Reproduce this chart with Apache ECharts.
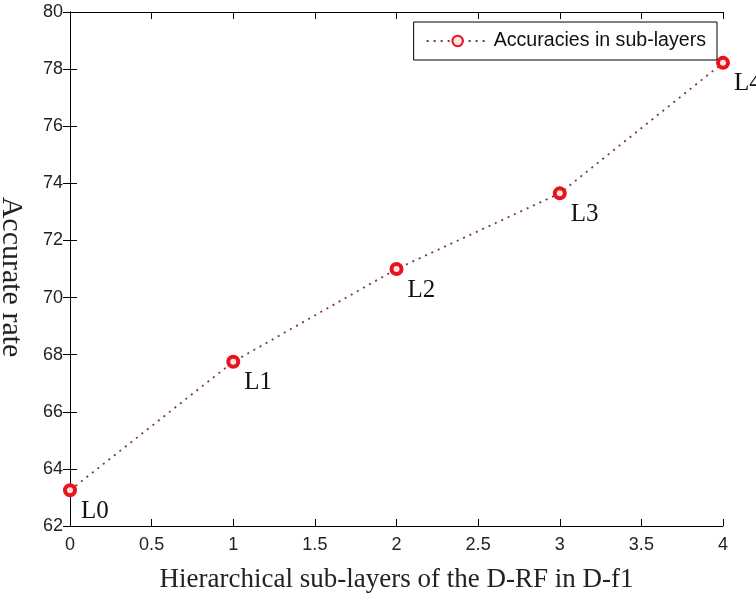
<!DOCTYPE html>
<html>
<head>
<meta charset="utf-8">
<script src="https://cdn.jsdelivr.net/npm/echarts@6/dist/echarts.min.js"></script>
<style>
  html, body { margin: 0; padding: 0; background: #fff; }
  #main { width: 756px; height: 600px; }
</style>
</head>
<body>
<div id="main"></div>
<script>
// sub-layer index on x, accuracy on y
const layers = [0, 1, 2, 3, 4];
const accuracy = [63.25, 67.75, 71.0, 73.65, 78.22];
const pointLabels = ["L0", "L1", "L2", "L3", "L4"];
const seriesName = "Accuracies in sub-layers";

const tickFont = { fontFamily: "Liberation Sans", fontSize: 18, color: "#222" };

const seriesData = layers.map((x, i) => ({
  name: pointLabels[i],
  value: [x, accuracy[i]],
}));

const frameAxis = {
  axisLine: { show: true, lineStyle: { color: "#000", width: 1 } },
  axisTick: { show: true, inside: true, length: 7, lineStyle: { color: "#000" } },
  splitLine: { show: false },
};

const option = {
  backgroundColor: "#fff",
  animation: false,
  grid: { left: 70, right: 33, top: 12, bottom: 74, outerBoundsMode: "none", containLabel: false },
  legend: {
    data: [seriesName],
    right: 39,
    top: 22,
    backgroundColor: "#fff",
    borderColor: "#000",
    borderWidth: 1,
    borderRadius: 0,
    padding: [9, 11, 9, 12],
    itemWidth: 62,
    itemHeight: 13,
    itemGap: 0,
    textStyle: { fontFamily: "Liberation Sans", fontSize: 19.6, color: "#111" },
  },
  xAxis: [
    {
      ...frameAxis,
      type: "value",
      min: 0,
      max: 4,
      interval: 0.5,
      name: "Hierarchical sub-layers of the D-RF in D-f1",
      nameLocation: "middle",
      nameGap: 40,
      nameTextStyle: { fontFamily: "Liberation Serif", fontSize: 27, color: "#222", verticalAlign: "top" },
      axisLabel: { ...tickFont, margin: 10 },
    },
    {
      ...frameAxis,
      type: "value",
      position: "top",
      min: 0,
      max: 4,
      interval: 0.5,
      axisLabel: { show: false },
    },
  ],
  yAxis: [
    {
      ...frameAxis,
      type: "value",
      min: 62,
      max: 80,
      interval: 2,
      name: "Accurate rate",
      nameLocation: "middle",
      nameRotate: -90,
      nameGap: 44,
      nameTextStyle: { fontFamily: "Liberation Serif", fontSize: 30, color: "#222", padding: [0, 0, 0, 16] },
      axisLabel: { ...tickFont, margin: 7 },
    },
    {
      ...frameAxis,
      type: "value",
      position: "right",
      min: 62,
      max: 80,
      interval: 2,
      axisLabel: { show: false },
    },
  ],
  series: [
    {
      name: seriesName,
      type: "line",
      clip: false,
      data: seriesData,
      symbol: "circle",
      symbolSize: 10,
      itemStyle: { color: "#fde3e3", borderColor: "#e8141b", borderWidth: 4 },
      lineStyle: { color: "#7a3646", width: 1.8, type: [2, 5] },
      label: {
        show: true,
        formatter: "{b}",
        position: "right",
        distance: 4,
        offset: [0, 21],
        fontFamily: "Liberation Serif",
        fontSize: 25,
        color: "#111",
      },
      emphasis: { disabled: true },
    },
  ],
};

const chart = echarts.init(document.getElementById("main"));
chart.setOption(option);
</script>
</body>
</html>
